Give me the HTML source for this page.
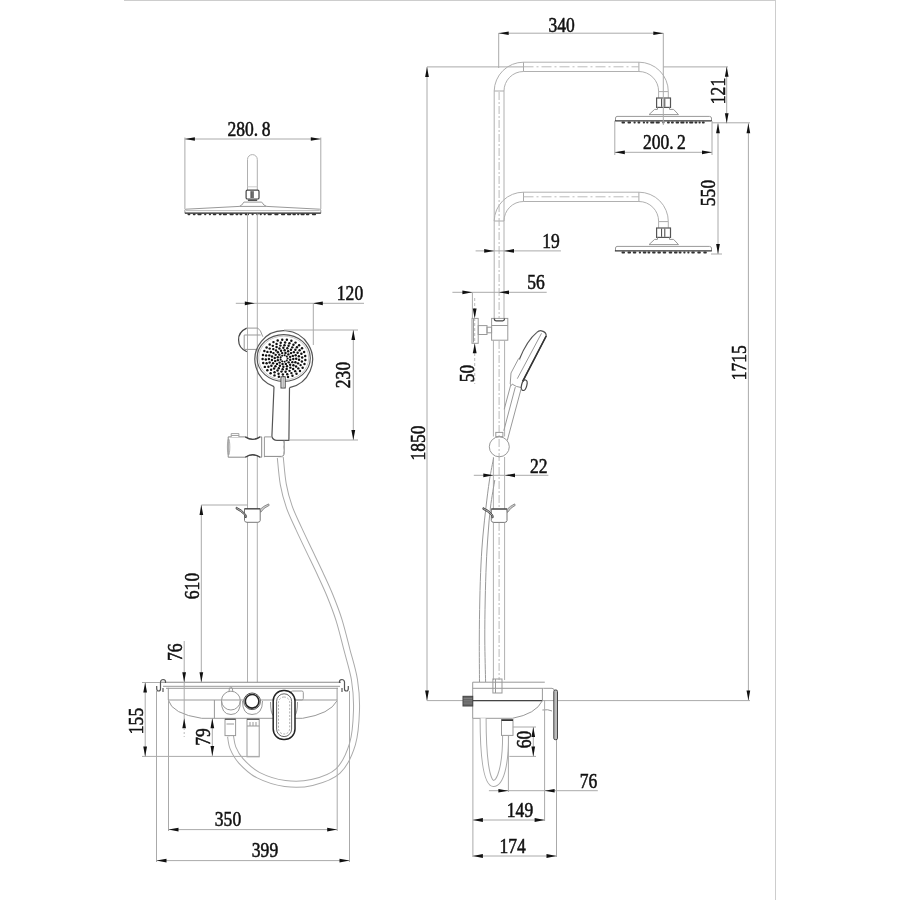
<!DOCTYPE html>
<html><head><meta charset="utf-8"><style>
html,body{margin:0;padding:0;background:#fff;}
svg{display:block;filter:grayscale(1);}
.t{font-family:"Liberation Serif",serif;font-size:20.5px;fill:#111;stroke:#111;stroke-width:0.55px;}
</style></head><body>
<svg width="900" height="900" viewBox="0 0 900 900">
<rect width="900" height="900" fill="#fff"/>
<line x1="124" y1="0.5" x2="775.5" y2="0.5" stroke="#cdcdcd" stroke-width="1"/>
<line x1="775.5" y1="0" x2="775.5" y2="900" stroke="#cdcdcd" stroke-width="1"/>
<path d="M247.5,190 V159.5 A4.9,4.9 0 0 1 257.3,159.5 V190" stroke="#b0b0b0" stroke-width="1" fill="none"/>
<line x1="247.5" y1="186.8" x2="257.3" y2="186.8" stroke="#ccc" stroke-width="1"/>
<rect x="246.1" y="190.2" width="12.9" height="8.8" rx="1.3" stroke="#444" stroke-width="1.2" fill="#fff"/>
<rect x="250.4" y="191.2" width="3.4" height="6.8" rx="0" stroke="none" fill="#888"/>
<line x1="251.2" y1="191.2" x2="251.2" y2="198" stroke="#444" stroke-width="0.8"/>
<line x1="253" y1="191.2" x2="253" y2="198" stroke="#444" stroke-width="0.8"/>
<line x1="247.9" y1="200.2" x2="257.2" y2="200.2" stroke="#333" stroke-width="1.3"/>
<path d="M239.4,206.4 Q241.8,205.8 243.9,202.1 H261.7 Q263.8,205.8 266.6,206.4" stroke="#999" stroke-width="1" fill="none"/>
<path d="M184.9,213.2 V210 Q185,209.3 186,209.2 L239.4,206.4 L266.6,206.4 L319.7,209.2 Q320.7,209.3 320.8,210 V213.2" stroke="#999" stroke-width="1" fill="none"/>
<line x1="186" y1="210.6" x2="319.7" y2="210.6" stroke="#aaa" stroke-width="0.8"/>
<line x1="184.9" y1="213.2" x2="320.8" y2="213.2" stroke="#222" stroke-width="1.3"/>
<rect x="187.5" y="213.6" width="2.8" height="1.7" rx="0.8" fill="#333"/>
<rect x="192.8" y="213.6" width="2.8" height="1.7" rx="0.8" fill="#333"/>
<rect x="197.4" y="213.6" width="4.2" height="1.7" rx="0.8" fill="#333"/>
<rect x="204.1" y="213.6" width="2.2" height="1.7" rx="0.8" fill="#333"/>
<rect x="208.8" y="213.6" width="2.2" height="1.7" rx="0.8" fill="#333"/>
<rect x="212.8" y="213.6" width="3.5" height="1.7" rx="0.8" fill="#333"/>
<rect x="218.8" y="213.6" width="2.8" height="1.7" rx="0.8" fill="#333"/>
<rect x="222.8" y="213.6" width="4.2" height="1.7" rx="0.8" fill="#333"/>
<rect x="229.5" y="213.6" width="4.2" height="1.7" rx="0.8" fill="#333"/>
<rect x="235.5" y="213.6" width="2.8" height="1.7" rx="0.8" fill="#333"/>
<rect x="239.5" y="213.6" width="2.8" height="1.7" rx="0.8" fill="#333"/>
<rect x="244.8" y="213.6" width="4.2" height="1.7" rx="0.8" fill="#333"/>
<rect x="251.5" y="213.6" width="2.2" height="1.7" rx="0.8" fill="#333"/>
<rect x="256.2" y="213.6" width="2.2" height="1.7" rx="0.8" fill="#333"/>
<rect x="259.6" y="213.6" width="2.2" height="1.7" rx="0.8" fill="#333"/>
<rect x="263.6" y="213.6" width="2.2" height="1.7" rx="0.8" fill="#333"/>
<rect x="267.6" y="213.6" width="4.2" height="1.7" rx="0.8" fill="#333"/>
<rect x="274.3" y="213.6" width="4.2" height="1.7" rx="0.8" fill="#333"/>
<rect x="281.0" y="213.6" width="4.2" height="1.7" rx="0.8" fill="#333"/>
<rect x="287.0" y="213.6" width="4.2" height="1.7" rx="0.8" fill="#333"/>
<rect x="292.4" y="213.6" width="3.5" height="1.7" rx="0.8" fill="#333"/>
<rect x="297.1" y="213.6" width="2.2" height="1.7" rx="0.8" fill="#333"/>
<rect x="300.5" y="213.6" width="4.2" height="1.7" rx="0.8" fill="#333"/>
<rect x="305.9" y="213.6" width="3.5" height="1.7" rx="0.8" fill="#333"/>
<rect x="311.9" y="213.6" width="4.2" height="1.7" rx="0.8" fill="#333"/>
<line x1="247.5" y1="213.5" x2="247.5" y2="682.2" stroke="#b0b0b0" stroke-width="1" fill="none"/>
<line x1="257.3" y1="213.5" x2="257.3" y2="682.2" stroke="#b0b0b0" stroke-width="1" fill="none"/>
<line x1="184.9" y1="137.5" x2="184.9" y2="209" stroke="#aaa" stroke-width="1" fill="none"/>
<line x1="320.8" y1="137.5" x2="320.8" y2="209" stroke="#aaa" stroke-width="1" fill="none"/>
<line x1="184.9" y1="139" x2="320.8" y2="139" stroke="#aaa" stroke-width="1" fill="none"/>
<polygon points="184.9,139.0 194.9,137.2 194.9,140.8" fill="#111"/>
<polygon points="320.8,139.0 310.8,137.2 310.8,140.8" fill="#111"/>
<text transform="translate(249,136.2) scale(0.855,1)" text-anchor="middle" class="t">280.<tspan dx="4">8</tspan></text>
<path d="M246.7,328.1 C240.5,331 238.4,336 238.6,340 C238.6,345 241.5,349.5 246.9,351.7" stroke="#444" stroke-width="1.2" fill="none"/>
<path d="M246.7,328.1 H257.8 Q260.6,329.5 262.8,336.7" stroke="#999" stroke-width="1" fill="none"/>
<line x1="244.2" y1="335" x2="260.6" y2="335" stroke="#999" stroke-width="1" fill="none"/>
<line x1="244.2" y1="335" x2="244.2" y2="349.4" stroke="#999" stroke-width="1" fill="none"/>
<line x1="244.2" y1="349.4" x2="256" y2="349.4" stroke="#999" stroke-width="1" fill="none"/>
<path d="M274,386.6 A28.8,28.8 0 1 1 289.5,387.7" stroke="#555" stroke-width="1.2" fill="none"/>
<ellipse cx="283.7" cy="358" rx="26.6" ry="23.4" stroke="#555" stroke-width="1.1" fill="none"/>
<ellipse cx="283.7" cy="358" rx="25.0" ry="21.9" stroke="#bbb" stroke-width="0.8" fill="none"/>
<g fill="#111"><circle cx="287.60" cy="358.50" r="1.05"/><circle cx="286.76" cy="360.54" r="1.05"/><circle cx="284.63" cy="361.62" r="1.05"/><circle cx="282.20" cy="361.24" r="1.05"/><circle cx="280.62" cy="359.58" r="1.05"/><circle cx="280.62" cy="357.42" r="1.05"/><circle cx="282.20" cy="355.76" r="1.05"/><circle cx="284.63" cy="355.38" r="1.05"/><circle cx="286.76" cy="356.46" r="1.05"/><circle cx="290.23" cy="359.78" r="1.22"/><circle cx="288.67" cy="362.35" r="1.22"/><circle cx="285.85" cy="363.89" r="1.22"/><circle cx="282.54" cy="363.98" r="1.22"/><circle cx="279.62" cy="362.61" r="1.22"/><circle cx="277.87" cy="360.13" r="1.22"/><circle cx="277.77" cy="357.22" r="1.22"/><circle cx="279.33" cy="354.65" r="1.22"/><circle cx="282.15" cy="353.11" r="1.22"/><circle cx="285.46" cy="353.02" r="1.22"/><circle cx="288.38" cy="354.39" r="1.22"/><circle cx="290.13" cy="356.87" r="1.22"/><circle cx="292.33" cy="362.13" r="1.22"/><circle cx="290.12" cy="364.66" r="1.22"/><circle cx="286.97" cy="366.25" r="1.22"/><circle cx="283.37" cy="366.67" r="1.22"/><circle cx="279.87" cy="365.83" r="1.22"/><circle cx="277.00" cy="363.88" r="1.22"/><circle cx="275.19" cy="361.12" r="1.22"/><circle cx="274.72" cy="357.95" r="1.22"/><circle cx="275.67" cy="354.87" r="1.22"/><circle cx="277.88" cy="352.34" r="1.22"/><circle cx="281.03" cy="350.75" r="1.22"/><circle cx="284.63" cy="350.33" r="1.22"/><circle cx="288.13" cy="351.17" r="1.22"/><circle cx="291.00" cy="353.12" r="1.22"/><circle cx="292.81" cy="355.88" r="1.22"/><circle cx="293.28" cy="359.05" r="1.22"/><circle cx="293.41" cy="365.33" r="1.22"/><circle cx="290.38" cy="367.65" r="1.22"/><circle cx="286.66" cy="368.98" r="1.22"/><circle cx="282.65" cy="369.17" r="1.22"/><circle cx="278.78" cy="368.20" r="1.22"/><circle cx="275.48" cy="366.19" r="1.22"/><circle cx="273.11" cy="363.34" r="1.22"/><circle cx="271.91" cy="359.96" r="1.22"/><circle cx="272.03" cy="356.43" r="1.22"/><circle cx="273.44" cy="353.12" r="1.22"/><circle cx="276.00" cy="350.40" r="1.22"/><circle cx="279.42" cy="348.55" r="1.22"/><circle cx="283.34" cy="347.78" r="1.22"/><circle cx="287.33" cy="348.17" r="1.22"/><circle cx="290.96" cy="349.68" r="1.22"/><circle cx="293.84" cy="352.15" r="1.22"/><circle cx="295.65" cy="355.31" r="1.22"/><circle cx="296.20" cy="358.81" r="1.22"/><circle cx="295.42" cy="362.28" r="1.22"/><circle cx="293.15" cy="369.07" r="1.22"/><circle cx="289.57" cy="370.85" r="1.22"/><circle cx="285.57" cy="371.72" r="1.22"/><circle cx="281.46" cy="371.60" r="1.22"/><circle cx="277.54" cy="370.51" r="1.22"/><circle cx="274.10" cy="368.53" r="1.22"/><circle cx="271.39" cy="365.81" r="1.22"/><circle cx="269.62" cy="362.54" r="1.22"/><circle cx="268.91" cy="358.98" r="1.22"/><circle cx="269.32" cy="355.38" r="1.22"/><circle cx="270.82" cy="352.01" r="1.22"/><circle cx="273.30" cy="349.12" r="1.22"/><circle cx="276.57" cy="346.93" r="1.22"/><circle cx="280.40" cy="345.60" r="1.22"/><circle cx="284.49" cy="345.22" r="1.22"/><circle cx="288.54" cy="345.83" r="1.22"/><circle cx="292.26" cy="347.37" r="1.22"/><circle cx="295.36" cy="349.75" r="1.22"/><circle cx="297.62" cy="352.77" r="1.22"/><circle cx="298.88" cy="356.22" r="1.22"/><circle cx="299.02" cy="359.83" r="1.22"/><circle cx="298.06" cy="363.35" r="1.22"/><circle cx="296.05" cy="366.51" r="1.22"/><circle cx="291.43" cy="373.12" r="1.22"/><circle cx="287.24" cy="374.26" r="1.22"/><circle cx="282.86" cy="374.48" r="1.22"/><circle cx="278.55" cy="373.78" r="1.22"/><circle cx="274.55" cy="372.19" r="1.22"/><circle cx="271.10" cy="369.80" r="1.22"/><circle cx="268.40" cy="366.76" r="1.22"/><circle cx="266.61" cy="363.23" r="1.22"/><circle cx="265.83" cy="359.43" r="1.22"/><circle cx="266.11" cy="355.58" r="1.22"/><circle cx="267.42" cy="351.90" r="1.22"/><circle cx="269.70" cy="348.60" r="1.22"/><circle cx="272.81" cy="345.87" r="1.22"/><circle cx="276.57" cy="343.88" r="1.22"/><circle cx="280.76" cy="342.74" r="1.22"/><circle cx="285.14" cy="342.52" r="1.22"/><circle cx="289.45" cy="343.22" r="1.22"/><circle cx="293.45" cy="344.81" r="1.22"/><circle cx="296.90" cy="347.20" r="1.22"/><circle cx="299.60" cy="350.24" r="1.22"/><circle cx="301.39" cy="353.77" r="1.22"/><circle cx="302.17" cy="357.57" r="1.22"/><circle cx="301.89" cy="361.42" r="1.22"/><circle cx="300.58" cy="365.10" r="1.22"/><circle cx="298.30" cy="368.40" r="1.22"/><circle cx="295.19" cy="371.13" r="1.22"/><circle cx="288.06" cy="376.99" r="1.22"/><circle cx="283.45" cy="377.33" r="1.22"/><circle cx="278.86" cy="376.78" r="1.22"/><circle cx="274.52" cy="375.38" r="1.22"/><circle cx="270.61" cy="373.19" r="1.22"/><circle cx="267.34" cy="370.32" r="1.22"/><circle cx="264.84" cy="366.89" r="1.22"/><circle cx="263.24" cy="363.07" r="1.22"/><circle cx="262.61" cy="359.03" r="1.22"/><circle cx="262.98" cy="354.97" r="1.22"/><circle cx="264.33" cy="351.08" r="1.22"/><circle cx="266.60" cy="347.53" r="1.22"/><circle cx="269.69" cy="344.50" r="1.22"/><circle cx="273.45" cy="342.12" r="1.22"/><circle cx="277.69" cy="340.50" r="1.22"/><circle cx="282.24" cy="339.73" r="1.22"/><circle cx="286.86" cy="339.84" r="1.22"/><circle cx="291.36" cy="340.82" r="1.22"/><circle cx="295.50" cy="342.62" r="1.22"/><circle cx="299.11" cy="345.17" r="1.22"/><circle cx="302.02" cy="348.34" r="1.22"/><circle cx="304.08" cy="351.98" r="1.22"/><circle cx="305.20" cy="355.93" r="1.22"/><circle cx="305.33" cy="360.01" r="1.22"/><circle cx="304.47" cy="364.01" r="1.22"/><circle cx="302.64" cy="367.75" r="1.22"/><circle cx="299.95" cy="371.06" r="1.22"/><circle cx="296.51" cy="373.78" r="1.22"/><circle cx="292.48" cy="375.79" r="1.22"/></g>
<circle cx="284" cy="358.5" r="2.2" stroke="none" fill="#fff"/>
<rect x="281" y="376.8" width="4.2" height="11.2" rx="0" stroke="#444" stroke-width="1" fill="#fff"/>
<line x1="283.1" y1="377.5" x2="283.1" y2="387.5" stroke="#888" stroke-width="1"/>
<path d="M274,386.6 L271.9,436.5 Q273,440.4 277,440.4 L288.9,440.4 L289.5,387.7" stroke="#555" stroke-width="1.2" fill="none"/>
<line x1="284" y1="330" x2="358" y2="330" stroke="#aaa" stroke-width="1" fill="none"/>
<line x1="289" y1="440" x2="358" y2="440" stroke="#aaa" stroke-width="1" fill="none"/>
<line x1="353.3" y1="330" x2="353.3" y2="440" stroke="#aaa" stroke-width="1" fill="none"/>
<polygon points="353.3,330.0 351.4,340.0 355.2,340.0" fill="#111"/>
<polygon points="353.3,440.0 351.4,430.0 355.2,430.0" fill="#111"/>
<text transform="translate(349.5,375) rotate(-90) scale(0.855,1)" text-anchor="middle" class="t">230</text>
<line x1="235.8" y1="303.3" x2="364" y2="303.3" stroke="#aaa" stroke-width="1" fill="none"/>
<polygon points="254.8,303.3 244.8,301.4 244.8,305.2" fill="#111"/>
<polygon points="312.8,303.3 322.8,301.4 322.8,305.2" fill="#111"/>
<line x1="313.3" y1="303" x2="313.3" y2="345" stroke="#aaa" stroke-width="1" fill="none"/>
<text transform="translate(350,300.3) scale(0.855,1)" text-anchor="middle" class="t">120</text>
<path d="M228.2,436.9 H245.3 Q252.7,441.8 260.1,436.9 H261.7 V457.2 H260.1 Q252.7,452.3 245.3,457.2 H228.2 Z" stroke="#888" stroke-width="1" fill="#fff"/>
<path d="M245.3,436.9 Q252.7,441.8 260.1,436.9 M245.3,457.2 Q252.7,452.3 260.1,457.2" stroke="#444" stroke-width="1.3" fill="none"/>
<ellipse cx="228.6" cy="447" rx="1.2" ry="8" stroke="#999" stroke-width="0.8" fill="none"/>
<path d="M231.2,437 V433.6 H238.9 V437 M231.2,435.5 H238.9" stroke="#999" stroke-width="0.9" fill="#fff"/>
<line x1="264.4" y1="436.9" x2="264.4" y2="457.2" stroke="#999" stroke-width="1" fill="none"/>
<path d="M264.4,436.9 H271.9" stroke="#999" stroke-width="1" fill="none"/>
<path d="M284.2,440.4 V453.8 Q284,456.4 281.5,456.4 H264.4" stroke="#888" stroke-width="1" fill="none"/>
<path d="M283.2,441 Q285.5,444 283.6,447 Q285.5,450 283.4,454" stroke="#aaa" stroke-width="0.8" fill="none"/>
<path d="M280.3,457.5 C280.80,461.98 281.82,476.20 283.3,484.4 C284.78,492.60 286.60,499.28 289.2,506.7 C291.80,514.12 295.53,521.50 298.9,528.9 C302.27,536.30 305.88,543.70 309.4,551.1 C312.92,558.50 316.57,565.88 320,573.3 C323.43,580.72 326.83,587.82 330,595.6 C333.17,603.38 336.17,610.93 339,620 C341.83,629.07 344.42,640.00 347,650 C349.58,660.00 352.92,670.00 354.5,680 C356.08,690.00 356.83,699.33 356.5,710 C356.17,720.67 355.58,733.83 352.5,744 C349.42,754.17 344.75,764.58 338,771 C331.25,777.42 320.83,780.42 312,782.5 C303.17,784.58 294.00,784.75 285,783.5 C276.00,782.25 265.33,778.75 258,775 C250.67,771.25 245.17,765.50 241,761 C236.83,756.50 234.75,752.17 233,748 C231.25,743.83 230.92,738.00 230.5,736" stroke="#aaa" stroke-width="7" fill="none"/>
<path d="M280.3,457.5 C280.80,461.98 281.82,476.20 283.3,484.4 C284.78,492.60 286.60,499.28 289.2,506.7 C291.80,514.12 295.53,521.50 298.9,528.9 C302.27,536.30 305.88,543.70 309.4,551.1 C312.92,558.50 316.57,565.88 320,573.3 C323.43,580.72 326.83,587.82 330,595.6 C333.17,603.38 336.17,610.93 339,620 C341.83,629.07 344.42,640.00 347,650 C349.58,660.00 352.92,670.00 354.5,680 C356.08,690.00 356.83,699.33 356.5,710 C356.17,720.67 355.58,733.83 352.5,744 C349.42,754.17 344.75,764.58 338,771 C331.25,777.42 320.83,780.42 312,782.5 C303.17,784.58 294.00,784.75 285,783.5 C276.00,782.25 265.33,778.75 258,775 C250.67,771.25 245.17,765.50 241,761 C236.83,756.50 234.75,752.17 233,748 C231.25,743.83 230.92,738.00 230.5,736" stroke="#fff" stroke-width="5" fill="none"/>
<path d="M244.5,508.8 V520.5 Q244.8,522.3 247.0,522.3 H257.7 Q260.0,522.3 260.2,520.5 V508.8 Z" stroke="#777" stroke-width="1" fill="#fff"/>
<line x1="244.5" y1="508.8" x2="260.2" y2="508.8" stroke="#444" stroke-width="1.2"/>
<path d="M236.3,507.2 Q241.5,509.3 245.7,514.3 Q247.1,516.4 246.1,517.8 L244.9,517.2 Q245.7,515.8 244.5,514.8 Q240.5,511.0 236.0,508.8 Z" stroke="#444" stroke-width="0.9" fill="#bbb"/>
<path d="M260.2,509.3 Q263.2,506.1 268.6,503.90000000000003 L269.20000000000005,505.40000000000003 Q263.7,507.6 260.7,512.3 Z" stroke="#777" stroke-width="0.8" fill="#ccc"/>
<line x1="201.3" y1="505" x2="248" y2="505" stroke="#aaa" stroke-width="1" fill="none"/>
<line x1="201.3" y1="505" x2="201.3" y2="682.2" stroke="#aaa" stroke-width="1" fill="none"/>
<polygon points="201.3,505.0 199.5,515.0 203.2,515.0" fill="#111"/>
<polygon points="201.3,682.2 199.5,672.2 203.2,672.2" fill="#111"/>
<text transform="translate(198.7,586) rotate(-90) scale(0.855,1)" text-anchor="middle" class="t">610</text>
<line x1="161" y1="682.3" x2="341" y2="682.3" stroke="#888" stroke-width="1.1"/>
<line x1="163" y1="686.3" x2="340" y2="686.3" stroke="#999" stroke-width="1"/>
<line x1="166" y1="688.3" x2="338" y2="688.3" stroke="#999" stroke-width="1"/>
<path d="M165.5,683 Q166,679.5 163,679.5 Q160,679.8 160.5,684 L160.5,689 Q160.5,691 158.5,691 Q156.7,691 156.7,688.5 V686" stroke="#555" stroke-width="1.2" fill="none"/>
<path d="M339.5,683 Q339,679.5 342,679.5 Q345,679.8 344.5,684 L344.5,689 Q344.5,691 346.5,691 Q348.3,691 348.3,688.5 V686" stroke="#555" stroke-width="1.2" fill="none"/>
<line x1="163" y1="688" x2="163" y2="692" stroke="#555" stroke-width="1.2" fill="none"/>
<line x1="342" y1="688" x2="342" y2="692" stroke="#555" stroke-width="1.2" fill="none"/>
<path d="M168.3,687.8 V700 H337.1 V687.8" stroke="#999" stroke-width="1" fill="none"/>
<path d="M168.3,700 Q172,714 201.7,718.3 H302.6 Q330,714 337.1,700.7" stroke="#999" stroke-width="1" fill="none"/>
<line x1="214.4" y1="700" x2="214.4" y2="718.3" stroke="#999" stroke-width="1" fill="none"/>
<path d="M221.5,700.5 Q221,714.5 231,714.5 Q240.8,714.5 240.4,700.5" stroke="#999" stroke-width="1" fill="none"/>
<circle cx="230.9" cy="700.6" r="9.4" stroke="#999" stroke-width="1" fill="none"/>
<path d="M229,691.5 Q229,686.8 230.9,686.8 Q232.8,686.8 232.8,691.5" stroke="#999" stroke-width="1" fill="none"/>
<path d="M242.5,701 Q242.5,714.5 252,714.5 Q262.5,714.5 262.5,701" stroke="#999" stroke-width="1" fill="none"/>
<circle cx="252.1" cy="701.3" r="8.3" stroke="#555" stroke-width="1" fill="#fff"/>
<circle cx="252.1" cy="701.3" r="6.8" stroke="#222" stroke-width="1.6" fill="none"/>
<rect x="291" y="691" width="12.3" height="9" rx="1.5" stroke="#999" stroke-width="1" fill="none"/>
<path d="M270.5,702 Q270.5,713 273.5,716 M297.5,702 Q297.5,713 294.5,716" stroke="#999" stroke-width="1" fill="none"/>
<rect x="273.2" y="690.4" width="21.8" height="49.2" rx="10.5" stroke="#222" stroke-width="1.5" fill="#fff"/>
<rect x="276.6" y="693.8" width="15" height="42.8" rx="7.5" stroke="#666" stroke-width="1" fill="none"/>
<rect x="278.5" y="697" width="11.2" height="37" rx="5.5" stroke="#999" stroke-width="0.8" fill="none" stroke-dasharray="2,1.5"/>
<rect x="225" y="718.8" width="10.6" height="16.8" rx="0" stroke="#999" stroke-width="1" fill="none"/>
<line x1="225" y1="719.3" x2="235.6" y2="719.3" stroke="#555" stroke-width="1.2" fill="none"/>
<line x1="226.5" y1="724" x2="234" y2="724" stroke="#999" stroke-width="1" fill="none"/>
<rect x="247" y="718.8" width="12.2" height="38" rx="0" stroke="#999" stroke-width="1" fill="none"/>
<line x1="247" y1="719.3" x2="259.2" y2="719.3" stroke="#555" stroke-width="1.2" fill="none"/>
<line x1="247" y1="726" x2="259.2" y2="726" stroke="#999" stroke-width="1" fill="none"/>
<line x1="250" y1="722" x2="250" y2="726" stroke="#999" stroke-width="1" fill="none"/>
<line x1="253" y1="722" x2="253" y2="726" stroke="#999" stroke-width="1" fill="none"/>
<line x1="256" y1="722" x2="256" y2="726" stroke="#999" stroke-width="1" fill="none"/>
<line x1="184.2" y1="641" x2="184.2" y2="728" stroke="#aaa" stroke-width="1" fill="none"/>
<polygon points="184.2,682.2 182.3,672.2 186.0,672.2" fill="#111"/>
<polygon points="184.2,718.3 182.3,728.3 186.0,728.3" fill="#111"/>
<line x1="184.2" y1="728" x2="184.2" y2="737" stroke="#bbb" stroke-width="1" stroke-dasharray="2,2"/>
<text transform="translate(181.5,652.3) rotate(-90) scale(0.855,1)" text-anchor="middle" class="t">76</text>
<line x1="212.3" y1="718.3" x2="212.3" y2="756.1" stroke="#aaa" stroke-width="1" fill="none"/>
<polygon points="212.3,718.3 210.5,728.3 214.2,728.3" fill="#111"/>
<polygon points="212.3,756.1 210.5,746.1 214.2,746.1" fill="#111"/>
<text transform="translate(209.5,737) rotate(-90) scale(0.855,1)" text-anchor="middle" class="t">79</text>
<line x1="142" y1="682.5" x2="160" y2="682.5" stroke="#aaa" stroke-width="1" fill="none"/>
<line x1="142" y1="756.4" x2="259" y2="756.4" stroke="#aaa" stroke-width="1" fill="none"/>
<line x1="145.2" y1="682.5" x2="145.2" y2="756.6" stroke="#aaa" stroke-width="1" fill="none"/>
<polygon points="145.2,682.5 143.3,692.5 147.0,692.5" fill="#111"/>
<polygon points="145.2,756.6 143.3,746.6 147.0,746.6" fill="#111"/>
<text transform="translate(142.5,721) rotate(-90) scale(0.855,1)" text-anchor="middle" class="t">155</text>
<line x1="156.5" y1="691" x2="156.5" y2="862" stroke="#aaa" stroke-width="1" fill="none"/>
<line x1="349.5" y1="691" x2="349.5" y2="862" stroke="#aaa" stroke-width="1" fill="none"/>
<line x1="168.5" y1="700" x2="168.5" y2="831" stroke="#aaa" stroke-width="1" fill="none"/>
<line x1="337.2" y1="700" x2="337.2" y2="831" stroke="#aaa" stroke-width="1" fill="none"/>
<line x1="168.5" y1="829.6" x2="337.2" y2="829.6" stroke="#aaa" stroke-width="1" fill="none"/>
<polygon points="168.5,829.6 178.5,827.8 178.5,831.5" fill="#111"/>
<polygon points="337.2,829.6 327.2,827.8 327.2,831.5" fill="#111"/>
<text transform="translate(228,825.9) scale(0.855,1)" text-anchor="middle" class="t">350</text>
<line x1="156.5" y1="860.6" x2="349.5" y2="860.6" stroke="#aaa" stroke-width="1" fill="none"/>
<polygon points="156.5,860.6 166.5,858.8 166.5,862.5" fill="#111"/>
<polygon points="349.5,860.6 339.5,858.8 339.5,862.5" fill="#111"/>
<text transform="translate(265,856.8) scale(0.855,1)" text-anchor="middle" class="t">399</text>
<path d="M494.2,91 A29.3,29.3 0 0 1 523.5,62.2 H638.9 A29.4,29.4 0 0 1 668.3,91.6 V97.8" stroke="#b0b0b0" stroke-width="1" fill="none"/>
<path d="M504.0,91 A19.5,19.5 0 0 1 523.5,71.5 H638.9 A19.7,19.7 0 0 1 658.6,91.2 V97.8" stroke="#b0b0b0" stroke-width="1" fill="none"/>
<line x1="523.5" y1="62.2" x2="523.5" y2="71.5" stroke="#aaa" stroke-width="1"/>
<line x1="638.9" y1="62.2" x2="638.9" y2="71.5" stroke="#aaa" stroke-width="1"/>
<line x1="523.5" y1="66.8" x2="638.9" y2="66.8" stroke="#bbb" stroke-width="1" stroke-dasharray="10,3,2,3"/>
<line x1="494.2" y1="91" x2="504.0" y2="91" stroke="#aaa" stroke-width="1"/>
<line x1="658.6" y1="91.6" x2="668.3" y2="91.6" stroke="#aaa" stroke-width="1"/>
<rect x="656.6" y="98" width="13.9" height="9.4" rx="0" stroke="#555" stroke-width="1.2" fill="none"/>
<line x1="661.6" y1="98.6" x2="661.6" y2="106.8" stroke="#444" stroke-width="1"/>
<line x1="664.8" y1="98.6" x2="664.8" y2="106.8" stroke="#444" stroke-width="1"/>
<path d="M657.5,107.4 V109.4 H654.6 L649,114.6 H678.5 L673.6,109.4 H669.5 V107.4" stroke="#999" stroke-width="1" fill="none"/>
<path d="M615.5,121 V118 Q615.6,116.6 617,116.4 H709.5 Q711.4,116.6 711.5,118 V121" stroke="#999" stroke-width="1" fill="none"/>
<line x1="614.9" y1="120.9" x2="711.8" y2="120.9" stroke="#333" stroke-width="1.1"/>
<rect x="621.5" y="121.6" width="3.5" height="2" rx="0.8" fill="#333"/>
<rect x="627.5" y="121.6" width="3.5" height="2" rx="0.8" fill="#333"/>
<rect x="633.5" y="121.6" width="2.2" height="2" rx="0.8" fill="#333"/>
<rect x="637.5" y="121.6" width="2.8" height="2" rx="0.8" fill="#333"/>
<rect x="642.8" y="121.6" width="2.2" height="2" rx="0.8" fill="#333"/>
<rect x="646.2" y="121.6" width="2.2" height="2" rx="0.8" fill="#333"/>
<rect x="650.2" y="121.6" width="4.2" height="2" rx="0.8" fill="#333"/>
<rect x="655.6" y="121.6" width="4.2" height="2" rx="0.8" fill="#333"/>
<rect x="662.3" y="121.6" width="2.2" height="2" rx="0.8" fill="#333"/>
<rect x="667.0" y="121.6" width="2.8" height="2" rx="0.8" fill="#333"/>
<rect x="671.0" y="121.6" width="2.8" height="2" rx="0.8" fill="#333"/>
<rect x="675.6" y="121.6" width="3.5" height="2" rx="0.8" fill="#333"/>
<rect x="680.3" y="121.6" width="4.2" height="2" rx="0.8" fill="#333"/>
<rect x="685.7" y="121.6" width="2.2" height="2" rx="0.8" fill="#333"/>
<rect x="689.1" y="121.6" width="4.2" height="2" rx="0.8" fill="#333"/>
<rect x="694.5" y="121.6" width="2.8" height="2" rx="0.8" fill="#333"/>
<rect x="698.5" y="121.6" width="2.2" height="2" rx="0.8" fill="#333"/>
<rect x="701.9" y="121.6" width="2.8" height="2" rx="0.8" fill="#333"/>
<path d="M494.2,221 A29.3,29.3 0 0 1 523.5,192.2 H638.9 A29.4,29.4 0 0 1 668.3,221.6 V227.8" stroke="#b0b0b0" stroke-width="1" fill="none"/>
<path d="M504.0,221 A19.5,19.5 0 0 1 523.5,201.5 H638.9 A19.7,19.7 0 0 1 658.6,221.2 V227.8" stroke="#b0b0b0" stroke-width="1" fill="none"/>
<line x1="523.5" y1="192.2" x2="523.5" y2="201.5" stroke="#aaa" stroke-width="1"/>
<line x1="638.9" y1="192.2" x2="638.9" y2="201.5" stroke="#aaa" stroke-width="1"/>
<line x1="523.5" y1="196.8" x2="638.9" y2="196.8" stroke="#bbb" stroke-width="1" stroke-dasharray="10,3,2,3"/>
<line x1="494.2" y1="221" x2="504.0" y2="221" stroke="#aaa" stroke-width="1"/>
<line x1="658.6" y1="221.6" x2="668.3" y2="221.6" stroke="#aaa" stroke-width="1"/>
<rect x="656.6" y="228" width="13.9" height="9.4" rx="0" stroke="#555" stroke-width="1.2" fill="none"/>
<line x1="661.6" y1="228.6" x2="661.6" y2="236.8" stroke="#444" stroke-width="1"/>
<line x1="664.8" y1="228.6" x2="664.8" y2="236.8" stroke="#444" stroke-width="1"/>
<path d="M657.5,237.4 V239.4 H654.6 L649,244.6 H678.5 L673.6,239.4 H669.5 V237.4" stroke="#999" stroke-width="1" fill="none"/>
<path d="M615.5,251 V248 Q615.6,246.6 617,246.4 H709.5 Q711.4,246.6 711.5,248 V251" stroke="#999" stroke-width="1" fill="none"/>
<line x1="614.9" y1="250.9" x2="711.8" y2="250.9" stroke="#333" stroke-width="1.1"/>
<rect x="621.5" y="251.6" width="3.5" height="2" rx="0.8" fill="#333"/>
<rect x="627.5" y="251.6" width="3.5" height="2" rx="0.8" fill="#333"/>
<rect x="632.8" y="251.6" width="3.5" height="2" rx="0.8" fill="#333"/>
<rect x="638.8" y="251.6" width="2.2" height="2" rx="0.8" fill="#333"/>
<rect x="642.8" y="251.6" width="3.5" height="2" rx="0.8" fill="#333"/>
<rect x="647.5" y="251.6" width="2.8" height="2" rx="0.8" fill="#333"/>
<rect x="652.1" y="251.6" width="3.5" height="2" rx="0.8" fill="#333"/>
<rect x="657.4" y="251.6" width="3.5" height="2" rx="0.8" fill="#333"/>
<rect x="662.7" y="251.6" width="3.5" height="2" rx="0.8" fill="#333"/>
<rect x="668.7" y="251.6" width="3.5" height="2" rx="0.8" fill="#333"/>
<rect x="674.0" y="251.6" width="3.5" height="2" rx="0.8" fill="#333"/>
<rect x="678.7" y="251.6" width="2.8" height="2" rx="0.8" fill="#333"/>
<rect x="683.3" y="251.6" width="2.2" height="2" rx="0.8" fill="#333"/>
<rect x="687.3" y="251.6" width="2.2" height="2" rx="0.8" fill="#333"/>
<rect x="691.3" y="251.6" width="3.5" height="2" rx="0.8" fill="#333"/>
<rect x="697.3" y="251.6" width="3.5" height="2" rx="0.8" fill="#333"/>
<rect x="703.3" y="251.6" width="3.5" height="2" rx="0.8" fill="#333"/>
<line x1="494.2" y1="91" x2="494.2" y2="318.4" stroke="#b0b0b0" stroke-width="1" fill="none"/>
<line x1="504.0" y1="91" x2="504.0" y2="318.4" stroke="#b0b0b0" stroke-width="1" fill="none"/>
<line x1="499.1" y1="92" x2="499.1" y2="318" stroke="#bbb" stroke-width="1" fill="none" stroke-dasharray="8,2,2,2"/>
<line x1="498.7" y1="33" x2="498.7" y2="68" stroke="#aaa" stroke-width="1" fill="none"/>
<line x1="663.3" y1="33" x2="663.3" y2="125" stroke="#aaa" stroke-width="1" fill="none"/>
<line x1="498.7" y1="33.2" x2="663.3" y2="33.2" stroke="#aaa" stroke-width="1" fill="none"/>
<polygon points="498.7,33.2 508.7,31.4 508.7,35.1" fill="#111"/>
<polygon points="663.3,33.2 653.3,31.4 653.3,35.1" fill="#111"/>
<text transform="translate(561.7,32.2) scale(0.855,1)" text-anchor="middle" class="t">340</text>
<line x1="663.3" y1="66.9" x2="728" y2="66.9" stroke="#aaa" stroke-width="1" fill="none"/>
<line x1="712" y1="122.8" x2="750" y2="122.8" stroke="#aaa" stroke-width="1" fill="none"/>
<line x1="726.7" y1="66.7" x2="726.7" y2="123.3" stroke="#aaa" stroke-width="1" fill="none"/>
<polygon points="726.7,66.7 724.9,76.7 728.6,76.7" fill="#111"/>
<polygon points="726.7,123.3 724.9,113.3 728.6,113.3" fill="#111"/>
<text transform="translate(724.5,91) rotate(-90) scale(0.855,1)" text-anchor="middle" class="t">121</text>
<line x1="614.8" y1="121" x2="614.8" y2="155" stroke="#aaa" stroke-width="1" fill="none"/>
<line x1="712" y1="121" x2="712" y2="155" stroke="#aaa" stroke-width="1" fill="none"/>
<line x1="614.8" y1="152.3" x2="712" y2="152.3" stroke="#aaa" stroke-width="1" fill="none"/>
<polygon points="614.8,152.3 624.8,150.5 624.8,154.2" fill="#111"/>
<polygon points="712.0,152.3 702.0,150.5 702.0,154.2" fill="#111"/>
<text transform="translate(664.4,148.9) scale(0.855,1)" text-anchor="middle" class="t">200.<tspan dx="4">2</tspan></text>
<line x1="711" y1="254" x2="722" y2="254" stroke="#aaa" stroke-width="1" fill="none"/>
<line x1="718" y1="123.3" x2="718" y2="254" stroke="#aaa" stroke-width="1" fill="none"/>
<polygon points="718.0,123.3 716.1,133.3 719.9,133.3" fill="#111"/>
<polygon points="718.0,254.0 716.1,244.0 719.9,244.0" fill="#111"/>
<text transform="translate(715.2,193) rotate(-90) scale(0.855,1)" text-anchor="middle" class="t">550</text>
<line x1="748.4" y1="123.3" x2="748.4" y2="700.6" stroke="#aaa" stroke-width="1" fill="none"/>
<polygon points="748.4,123.3 746.5,133.3 750.2,133.3" fill="#111"/>
<polygon points="748.4,700.6 746.5,690.6 750.2,690.6" fill="#111"/>
<text transform="translate(745.6,362.7) rotate(-90) scale(0.855,1)" text-anchor="middle" class="t">1715</text>
<line x1="427" y1="66.9" x2="524" y2="66.9" stroke="#aaa" stroke-width="1" fill="none"/>
<line x1="427" y1="700.6" x2="750" y2="700.6" stroke="#aaa" stroke-width="1" fill="none"/>
<line x1="427" y1="66.9" x2="427" y2="700.6" stroke="#aaa" stroke-width="1" fill="none"/>
<polygon points="427.0,66.9 425.1,76.9 428.9,76.9" fill="#111"/>
<polygon points="427.0,700.6 425.1,690.6 428.9,690.6" fill="#111"/>
<text transform="translate(425.3,443) rotate(-90) scale(0.855,1)" text-anchor="middle" class="t">1850</text>
<line x1="475.6" y1="250.9" x2="560.9" y2="250.9" stroke="#aaa" stroke-width="1" fill="none"/>
<polygon points="494.2,250.9 484.2,249.1 484.2,252.8" fill="#111"/>
<polygon points="504.0,250.9 514.0,249.1 514.0,252.8" fill="#111"/>
<text transform="translate(551,248.2) scale(0.855,1)" text-anchor="middle" class="t">19</text>
<line x1="452.4" y1="292.3" x2="546.7" y2="292.3" stroke="#aaa" stroke-width="1" fill="none"/>
<polygon points="472.4,292.3 462.4,290.4 462.4,294.2" fill="#111"/>
<polygon points="499.0,292.3 509.0,290.4 509.0,294.2" fill="#111"/>
<line x1="472.4" y1="292.3" x2="472.4" y2="318" stroke="#aaa" stroke-width="1" fill="none"/>
<text transform="translate(536,289) scale(0.855,1)" text-anchor="middle" class="t">56</text>
<line x1="474.7" y1="298" x2="474.7" y2="384" stroke="#bbb" stroke-width="1" stroke-dasharray="3,2"/>
<polygon points="474.7,318.4 472.8,308.4 476.6,308.4" fill="#111"/>
<polygon points="474.7,343.3 472.8,353.3 476.6,353.3" fill="#111"/>
<text transform="translate(473.5,373.6) rotate(-90) scale(0.855,1)" text-anchor="middle" class="t">50</text>
<rect x="491.6" y="318.4" width="16.2" height="21.8" rx="0" stroke="#999" stroke-width="1" fill="none"/>
<line x1="491.6" y1="325.5" x2="507.8" y2="325.5" stroke="#999" stroke-width="1" fill="none"/>
<path d="M494.4,318.4 V319.3 Q494.6,320.8 496.2,320.8 H502.8 Q504.3,320.8 504.4,319.3 V318.4" stroke="#444" stroke-width="1.3" fill="none"/>
<rect x="472" y="318.4" width="6.2" height="24.9" rx="0" stroke="#999" stroke-width="1" fill="none"/>
<line x1="473.5" y1="319" x2="473.5" y2="342.5" stroke="#999" stroke-width="1" fill="none"/>
<rect x="478.2" y="325.6" width="8.8" height="8.9" rx="0" stroke="#999" stroke-width="1" fill="none"/>
<rect x="487" y="327.2" width="4.6" height="5.6" rx="0" stroke="#999" stroke-width="1" fill="none"/>
<line x1="493.4" y1="340.2" x2="493.4" y2="436.5" stroke="#b0b0b0" stroke-width="1" fill="none"/>
<line x1="504.6" y1="340.2" x2="504.6" y2="436.5" stroke="#b0b0b0" stroke-width="1" fill="none"/>
<line x1="493.4" y1="457" x2="493.4" y2="680" stroke="#b0b0b0" stroke-width="1" fill="none"/>
<line x1="504.6" y1="457" x2="504.6" y2="680" stroke="#b0b0b0" stroke-width="1" fill="none"/>
<line x1="499.1" y1="341" x2="499.1" y2="680" stroke="#bbb" stroke-width="1" fill="none" stroke-dasharray="8,2,2,2"/>
<rect x="495.8" y="432.4" width="7.1" height="4.2" rx="0" stroke="#999" stroke-width="1" fill="none"/>
<circle cx="499.3" cy="446.8" r="10" stroke="#999" stroke-width="1" fill="none"/>
<path d="M536.9,332.4 Q539,330.3 541.5,330.8 Q546.5,332 546.2,336 L522.7,381.3" stroke="#555" stroke-width="1.2" fill="none"/>
<line x1="546.2" y1="336" x2="522.7" y2="381.3" stroke="#333" stroke-width="1.6"/>
<path d="M536.9,332.4 C530,338 524,348 519.5,359" stroke="#555" stroke-width="1.2" fill="none"/>
<path d="M520.3,359.8 L518.6,358.6 L511,373 L510.2,384 L512,385.5" stroke="#999" stroke-width="1" fill="none"/>
<line x1="541.5" y1="333.3" x2="517.3" y2="378.7" stroke="#999" stroke-width="1" fill="none"/>
<path d="M512,384 Q516,387 521,387.5" stroke="#999" stroke-width="1" fill="none"/>
<ellipse cx="524.2" cy="385.2" rx="2.6" ry="5.4" transform="rotate(15 524.2 385.2)" stroke="#444" stroke-width="1.2" fill="none"/>
<line x1="515.3" y1="387.1" x2="503.8" y2="430.7" stroke="#999" stroke-width="1" fill="none"/>
<line x1="521.1" y1="388.9" x2="507.3" y2="440.4" stroke="#999" stroke-width="1" fill="none"/>
<line x1="510.9" y1="384.4" x2="504.2" y2="409.3" stroke="#999" stroke-width="1" fill="none"/>
<path d="M493.6,458 C492.92,461.67 490.77,471.83 489.5,480 C488.23,488.17 487.08,497.83 486,507 C484.92,516.17 483.83,525.50 483,535 C482.17,544.50 481.53,553.17 481,564 C480.47,574.83 480.08,587.33 479.8,600 C479.52,612.67 479.35,626.33 479.3,640 C479.25,653.67 479.47,675.00 479.5,682" stroke="#999" stroke-width="1" fill="none"/>
<path d="M494.8,480 C494.08,484.50 491.63,497.83 490.5,507 C489.37,516.17 488.70,525.50 488,535 C487.30,544.50 486.77,553.17 486.3,564 C485.83,574.83 485.45,587.33 485.2,600 C484.95,612.67 484.73,626.33 484.8,640 C484.87,653.67 485.47,675.00 485.6,682" stroke="#999" stroke-width="1" fill="none"/>
<path d="M491.3,509 V520.6 Q491.6,522.4 493.8,522.4 H504.5 Q506.8,522.4 507,520.6 V509 Z" stroke="#777" stroke-width="1" fill="#fff"/>
<line x1="491.3" y1="509" x2="507" y2="509" stroke="#444" stroke-width="1.2"/>
<path d="M483.1,507.59999999999997 Q488.3,509.5 492.5,514.5 Q493.90000000000003,516.6 492.90000000000003,518 L491.7,517.4 Q492.5,516 491.3,515 Q487.3,511.2 482.8,509.2 Z" stroke="#444" stroke-width="0.9" fill="#bbb"/>
<path d="M507,509.5 Q510,506.1 514.6,503.90000000000003 L515.2,505.40000000000003 Q510.5,507.6 507.5,512.5 Z" stroke="#777" stroke-width="0.8" fill="#ccc"/>
<line x1="473.8" y1="475.3" x2="548.4" y2="475.3" stroke="#aaa" stroke-width="1" fill="none"/>
<polygon points="493.3,475.3 483.3,473.4 483.3,477.2" fill="#111"/>
<polygon points="505.0,475.3 515.0,473.4 515.0,477.2" fill="#111"/>
<text transform="translate(538.7,472.7) scale(0.855,1)" text-anchor="middle" class="t">22</text>
<line x1="472.7" y1="682.2" x2="544.8" y2="682.2" stroke="#999" stroke-width="1" fill="none"/>
<line x1="472.7" y1="688.3" x2="543.6" y2="688.3" stroke="#999" stroke-width="1" fill="none"/>
<line x1="472.7" y1="682.2" x2="472.7" y2="718.3" stroke="#999" stroke-width="1" fill="none"/>
<line x1="472.7" y1="700.6" x2="542.4" y2="700.6" stroke="#444" stroke-width="1.3"/>
<path d="M472.7,718.3 H512.4 Q536,714 542.4,700.6 V688.3" stroke="#999" stroke-width="1" fill="none"/>
<rect x="492.9" y="679" width="9.1" height="14" rx="0" stroke="#999" stroke-width="1" fill="none"/>
<line x1="495.5" y1="679" x2="495.5" y2="693" stroke="#999" stroke-width="1"/>
<rect x="463" y="696.3" width="9.7" height="9.7" rx="0" stroke="#444" stroke-width="1" fill="#666"/>
<line x1="463.5" y1="698.5" x2="472.2" y2="698.5" stroke="#888" stroke-width="0.7"/>
<line x1="463.5" y1="700.8" x2="472.2" y2="700.8" stroke="#888" stroke-width="0.7"/>
<line x1="463.5" y1="703.1" x2="472.2" y2="703.1" stroke="#888" stroke-width="0.7"/>
<rect x="501.5" y="719.5" width="11.5" height="15.9" rx="0" stroke="#999" stroke-width="1" fill="none"/>
<line x1="501.5" y1="720.2" x2="513" y2="720.2" stroke="#333" stroke-width="1.6"/>
<path d="M543.6,688.3 H552 Q554.5,688.6 554.6,691.5" stroke="#999" stroke-width="1" fill="none"/>
<rect x="553.8" y="690" width="3.7" height="49.7" rx="1.5" stroke="#444" stroke-width="1" fill="#bbb"/>
<path d="M542.4,710 Q548,709 552,711" stroke="#999" stroke-width="1" fill="none"/>
<path d="M483.1,718.3 C483.1,758 486.5,783.5 493.5,783.5 C500.5,783.5 505.6,765 505.6,736" stroke="#aaa" stroke-width="7" fill="none"/>
<path d="M483.1,718.3 C483.1,758 486.5,783.5 493.5,783.5 C500.5,783.5 505.6,765 505.6,736" stroke="#fff" stroke-width="5" fill="none"/>
<line x1="512.9" y1="727" x2="536" y2="727" stroke="#aaa" stroke-width="1" fill="none"/>
<line x1="509.3" y1="756.4" x2="536" y2="756.4" stroke="#aaa" stroke-width="1" fill="none"/>
<line x1="533.3" y1="727" x2="533.3" y2="756.4" stroke="#aaa" stroke-width="1" fill="none"/>
<polygon points="533.3,727.0 531.4,737.0 535.1,737.0" fill="#111"/>
<polygon points="533.3,756.4 531.4,746.4 535.1,746.4" fill="#111"/>
<text transform="translate(530.8,739.6) rotate(-90) scale(0.855,1)" text-anchor="middle" class="t">60</text>
<line x1="472.9" y1="718" x2="472.9" y2="857" stroke="#aaa" stroke-width="1" fill="none"/>
<line x1="508.4" y1="736" x2="508.4" y2="792" stroke="#aaa" stroke-width="1" fill="none"/>
<line x1="544.6" y1="700" x2="544.6" y2="821" stroke="#aaa" stroke-width="1" fill="none"/>
<line x1="556.5" y1="740" x2="556.5" y2="857" stroke="#aaa" stroke-width="1" fill="none"/>
<line x1="488.9" y1="790.7" x2="597.8" y2="790.7" stroke="#aaa" stroke-width="1" fill="none"/>
<polygon points="508.4,790.7 498.4,788.9 498.4,792.6" fill="#111"/>
<polygon points="544.6,790.7 554.6,788.9 554.6,792.6" fill="#111"/>
<text transform="translate(588.4,787.6) scale(0.855,1)" text-anchor="middle" class="t">76</text>
<line x1="472.9" y1="820" x2="544.6" y2="820" stroke="#aaa" stroke-width="1" fill="none"/>
<polygon points="472.9,820.0 482.9,818.1 482.9,821.9" fill="#111"/>
<polygon points="544.6,820.0 534.6,818.1 534.6,821.9" fill="#111"/>
<text transform="translate(520,817.3) scale(0.855,1)" text-anchor="middle" class="t">149</text>
<line x1="472.9" y1="856" x2="556.5" y2="856" stroke="#aaa" stroke-width="1" fill="none"/>
<polygon points="472.9,856.0 482.9,854.1 482.9,857.9" fill="#111"/>
<polygon points="556.5,856.0 546.5,854.1 546.5,857.9" fill="#111"/>
<text transform="translate(512.6,852.9) scale(0.855,1)" text-anchor="middle" class="t">174</text>
</svg>
</body></html>
